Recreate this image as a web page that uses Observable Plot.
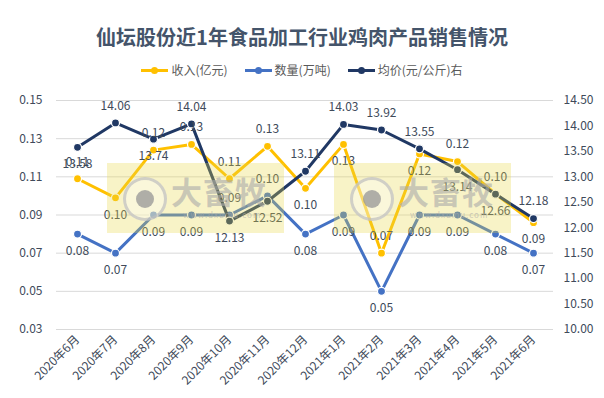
<!DOCTYPE html>
<html><head><meta charset="utf-8">
<script src="https://cdn.jsdelivr.net/npm/d3@7"></script>
<script src="https://cdn.jsdelivr.net/npm/@observablehq/plot@0.6"></script>
<style>
body{margin:0;background:#fff;font-family:"Noto Sans CJK SC","Noto Sans",sans-serif;}
#wrap{position:relative;width:604px;height:398px;overflow:hidden;background:#fff;}
#title{position:absolute;left:0;top:23px;width:604px;text-align:center;font-size:20px;font-weight:bold;color:#44546a;line-height:28px;}
#legend{position:absolute;top:61px;left:0;width:604px;display:flex;justify-content:center;gap:17px;font-size:12px;color:#595959;line-height:18px;}
.item{display:flex;align-items:center;}
.sw{position:relative;width:27px;height:3px;margin-right:3px;}
.sw i{position:absolute;left:10px;top:-2px;width:7px;height:7px;border-radius:50%;}
#chart{position:absolute;top:85px;left:0;}
.wm{position:absolute;background:rgba(232,216,70,0.3);pointer-events:none;overflow:hidden;}
.wm .ring{position:absolute;left:16px;top:14px;width:38px;height:38px;border-radius:50%;border:3px solid rgba(190,190,190,0.7);background:rgba(255,255,255,0.35);}
.wm .eye{position:absolute;left:10px;top:10px;width:18px;height:18px;border-radius:50%;background:rgba(150,150,150,0.75);}
.wm .t{position:absolute;left:64px;top:10px;font-size:31px;font-weight:bold;color:rgba(170,170,170,0.6);line-height:36px;white-space:nowrap;letter-spacing:1px;}
.wm .u{position:absolute;left:76px;top:47px;font-size:8px;color:rgba(170,170,170,0.6);letter-spacing:1px;white-space:nowrap;line-height:10px;}
</style>
</head><body>
<div id="wrap">
<div id="title">仙坛股份近1年食品加工行业鸡肉产品销售情况</div>
<div id="legend"></div>
<div id="chart"></div>
<div class="wm" style="left:107px;top:163px;width:177px;height:70px;"><div class="ring"><div class="eye"></div></div><div class="t">大畜牧</div><div class="u">www.dxumu.com</div></div>
<div class="wm" style="left:334px;top:163px;width:177px;height:70px;"><div class="ring"><div class="eye"></div></div><div class="t">大畜牧</div><div class="u">www.dxumu.com</div></div>
</div>
<script>
const months = ["2020年6月","2020年7月","2020年8月","2020年9月","2020年10月","2020年11月","2020年12月","2021年1月","2021年2月","2021年3月","2021年4月","2021年5月","2021年6月"];
const revenue = [0.109,0.099,0.124,0.127,0.109,0.126,0.104,0.127,0.070,0.122,0.118,0.101,0.086];
const volume  = [0.08,0.07,0.09,0.09,0.09,0.10,0.08,0.09,0.05,0.09,0.09,0.08,0.07];
const price   = [13.58,14.06,13.74,14.04,12.13,12.52,13.11,14.03,13.92,13.55,13.14,12.66,12.18];
const seriesNames = ["收入(亿元)","数量(万吨)","均价(元/公斤)右"];
const seriesColors = ["#FFC000","#4472C4","#203864"];
// label placement: 1 = above point, -1 = below point
const revSide   = [1,-1,1,1,1,1,-1,-1,1,-1,1,1,-1];
const volSide   = [-1,-1,-1,-1,1,1,-1,-1,-1,-1,-1,-1,-1];
const priceSide = [-1,1,-1,1,-1,-1,1,1,1,1,-1,-1,1];
const leftTicks = [0.03,0.05,0.07,0.09,0.11,0.13,0.15];
const rightTicks = [10,10.5,11,11.5,12,12.5,13,13.5,14,14.5];

// secondary axis mapping (price 10..14.5 -> left 0.03..0.15)
const toL = p => 0.03 + (p - 10) * 0.12 / 4.5;
const fromL = v => 10 + (v - 0.03) * 4.5 / 0.12;

const leg = document.getElementById("legend");
seriesNames.forEach((n,i)=>{
  const it = document.createElement("div"); it.className="item";
  it.innerHTML = `<span class="sw" style="background:${seriesColors[i]}"><i style="background:${seriesColors[i]}"></i></span><span>${n}</span>`;
  leg.appendChild(it);
});

const rows = months.map((m,i)=>({m, rev:revenue[i], vol:volume[i], price:price[i], pY:toL(price[i]), rs:revSide[i], vs:volSide[i], ps:priceSide[i]}));
const txt = "#404a5a";
const fs = 12;
const off = 17;

function series(yKey, color){
  return [
    Plot.line(rows,{x:"m",y:yKey,stroke:color,strokeWidth:3}),
    Plot.dot(rows,{x:"m",y:yKey,r:4,fill:color,stroke:"#fff",strokeWidth:1.2})
  ];
}
function labels(yKey, sideKey, labelFn){
  return [
    Plot.text(rows.filter(d=>d[sideKey]>0),{x:"m",y:yKey,text:labelFn,dy:-off,fill:txt,fontSize:fs}),
    Plot.text(rows.filter(d=>d[sideKey]<0),{x:"m",y:yKey,text:labelFn,dy:off,fill:txt,fontSize:fs})
  ];
}

const chart = Plot.plot({
  width:604, height:313,
  marginTop:15, marginBottom:69, marginLeft:56, marginRight:51,
  style:{fontFamily:'"Noto Sans CJK SC","Noto Sans",sans-serif',fontSize:"12px",color:txt,background:"transparent"},
  x:{type:"point",domain:months,padding:0.5},
  y:{domain:[0.03,0.15]},
  marks:[
    Plot.gridY(leftTicks,{stroke:"#d9d9d9",strokeOpacity:1,strokeWidth:1}),
    Plot.axisY(leftTicks,{anchor:"left",tickSize:0,tickPadding:14,tickFormat:d=>d.toFixed(2),label:null,fontSize:12,fill:txt}),
    Plot.axisY(rightTicks.map(toL),{anchor:"right",tickSize:0,tickPadding:10,tickFormat:v=>fromL(v).toFixed(2),label:null,fontSize:12,fill:txt}),
    Plot.axisX({tickRotate:-45,tickSize:0,tickPadding:8,label:null,fontSize:12,fill:txt}),
    ...series("rev",seriesColors[0]),
    ...series("vol",seriesColors[1]),
    ...series("pY",seriesColors[2]),
    ...labels("rev","rs",d=>d.rev.toFixed(2)),
    ...labels("vol","vs",d=>d.vol.toFixed(2)),
    ...labels("pY","ps",d=>d.price.toFixed(2))
  ]
});
document.getElementById("chart").appendChild(chart);
</script>
</body></html>
